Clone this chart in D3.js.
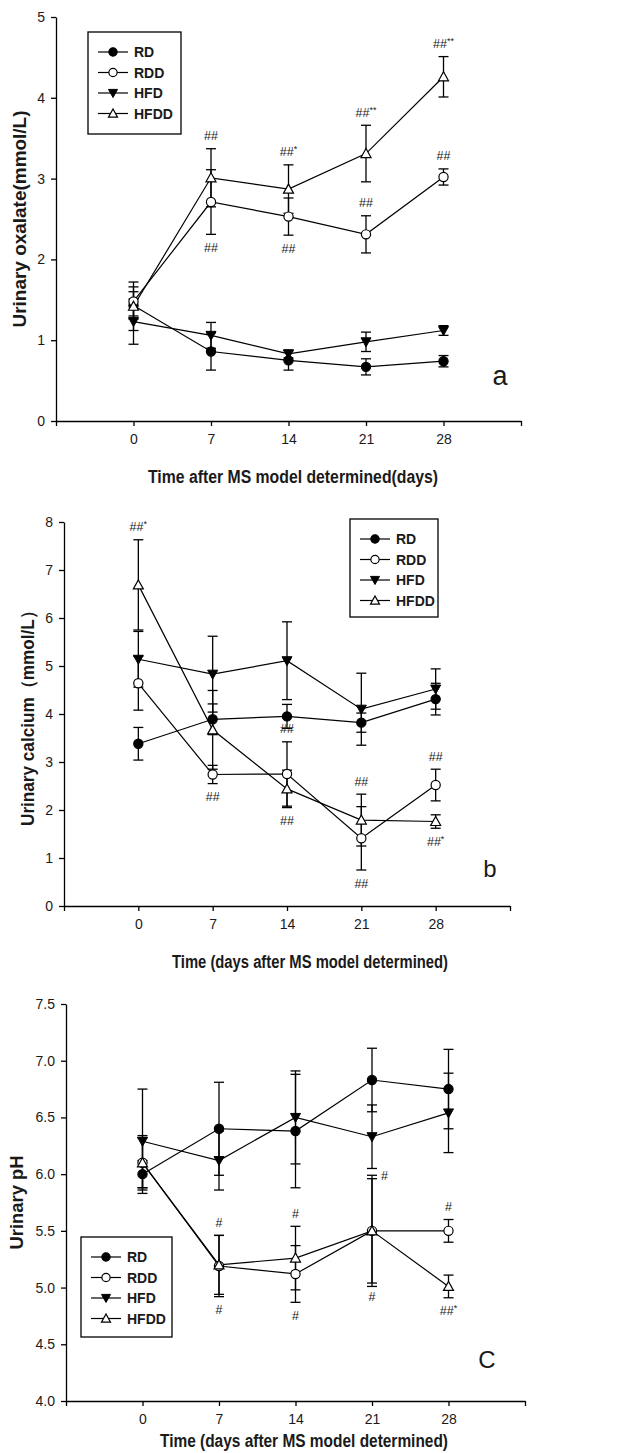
<!DOCTYPE html>
<html>
<head>
<meta charset="utf-8">
<script src="https://cdn.jsdelivr.net/npm/d3@7"></script>
<style>
  body { margin: 0; background: #fff; }
  svg { display: block; }
  text { font-family: 'Liberation Sans', Arial, sans-serif; fill: #1a1a1a; }
</style>
</head>
<body>
<div id="chart"></div>
<script>
const days = [0, 7, 14, 21, 28]
const groups = ['RD', 'RDD', 'HFD', 'HFDD']

// a: urinary oxalate (mmol/L), rows follow groups
const oxalateMean = [
  [1.43, 0.86, 0.75, 0.67, 0.74],
  [1.48, 2.71, 2.53, 2.31, 3.02],
  [1.23, 1.06, 0.83, 0.98, 1.12],
  [1.42, 3.01, 2.87, 3.31, 4.26]
]
const oxalateErr = [
  [0.17, 0.23, 0.12, 0.10, 0.07],
  [0.18, 0.40, 0.23, 0.23, 0.10],
  [0.28, 0.16, 0.05, 0.12, 0.06],
  [0.30, 0.36, 0.30, 0.35, 0.25]
]
const oxalateTicks = [0, 1, 2, 3, 4, 5]
const oxalateMarks = [
  { day: 7, group: 'HFDD', side: 'above', text: '##', star: '' },
  { day: 7, group: 'RDD', side: 'below', text: '##', star: '' },
  { day: 14, group: 'HFDD', side: 'above', text: '##', star: '*' },
  { day: 14, group: 'RDD', side: 'below', text: '##', star: '' },
  { day: 21, group: 'HFDD', side: 'above', text: '##', star: '**' },
  { day: 21, group: 'RDD', side: 'above', text: '##', star: '' },
  { day: 28, group: 'HFDD', side: 'above', text: '##', star: '**' },
  { day: 28, group: 'RDD', side: 'above', text: '##', star: '' }
]

// b: urinary calcium (mmol/L)
const calciumMean = [
  [3.38, 3.89, 3.95, 3.82, 4.31],
  [4.64, 2.74, 2.75, 1.41, 2.52],
  [5.14, 4.83, 5.11, 4.10, 4.52],
  [6.69, 3.67, 2.44, 1.79, 1.76]
]
const calciumErr = [
  [0.34, 0.32, 0.25, 0.20, 0.33],
  [0.56, 0.19, 0.67, 0.66, 0.33],
  [0.58, 0.79, 0.81, 0.75, 0.42],
  [0.94, 0.82, 0.39, 0.54, 0.14]
]
const calciumTicks = [0, 1, 2, 3, 4, 5, 6, 7, 8]
const calciumMarks = [
  { day: 0, group: 'HFDD', side: 'above', text: '##', star: '*' },
  { day: 7, group: 'RDD', side: 'below', text: '##', star: '' },
  { day: 14, group: 'RDD', side: 'above', text: '##', star: '' },
  { day: 14, group: 'HFDD', side: 'below', text: '##', star: '' },
  { day: 21, group: 'HFDD', side: 'above', text: '##', star: '' },
  { day: 21, group: 'RDD', side: 'below', text: '##', star: '' },
  { day: 28, group: 'RDD', side: 'above', text: '##', star: '' },
  { day: 28, group: 'HFDD', side: 'below', text: '##', star: '*' }
]

// c: urinary pH
const phMean = [
  [6.00, 6.40, 6.38, 6.83, 6.75],
  [6.10, 5.19, 5.12, 5.50, 5.50],
  [6.29, 6.12, 6.50, 6.33, 6.54],
  [6.10, 5.20, 5.26, 5.50, 5.01]
]
const phErr = [
  [0.12, 0.41, 0.50, 0.28, 0.35],
  [0.22, 0.27, 0.25, 0.46, 0.10],
  [0.46, 0.26, 0.41, 0.28, 0.35],
  [0.24, 0.26, 0.28, 0.49, 0.10]
]
const phTicks = [4.0, 4.5, 5.0, 5.5, 6.0, 6.5, 7.0, 7.5]
const phMarks = [
  { day: 7, group: 'HFDD', side: 'above', text: '#', star: '' },
  { day: 7, group: 'RDD', side: 'below', text: '#', star: '' },
  { day: 14, group: 'HFDD', side: 'above', text: '#', star: '' },
  { day: 14, group: 'RDD', side: 'below', text: '#', star: '' },
  { day: 21, group: 'HFDD', side: 'right', text: '#', star: '' },
  { day: 21, group: 'RDD', side: 'below', text: '#', star: '' },
  { day: 28, group: 'RDD', side: 'above', text: '#', star: '' },
  { day: 28, group: 'HFDD', side: 'below', text: '##', star: '*' }
]

const xTickValues = [-7, 0, 7, 14, 21, 28, 35]

const panels = [
  {
    mean: oxalateMean, err: oxalateErr, ticks: oxalateTicks, marks: oxalateMarks,
    fmt: d3.format('d'), x0: 56, x1: 521, yTop: 17, yBot: 421,
    yTitle: 'Urinary oxalate(mmol/L)', yTitleX: 20, yTitleLen: 217,
    xTitle: 'Time after MS model determined(days)', xTitleX: 293, xTitleY: 483, xTitleLen: 290,
    legend: { x: 88, y: 32, w: 93, h: 102 },
    letter: 'a', letterX: 500, letterY: 385, letterSize: 27
  },
  {
    mean: calciumMean, err: calciumErr, ticks: calciumTicks, marks: calciumMarks,
    fmt: d3.format('d'), x0: 64, x1: 510, yTop: 522, yBot: 906,
    yTitle: 'Urinary calcium（mmol/L）', yTitleX: 28, yTitleLen: 224,
    xTitle: 'Time (days after MS model determined)', xTitleX: 310, xTitleY: 968, xTitleLen: 276,
    legend: { x: 350, y: 519, w: 88, h: 98 },
    letter: 'b', letterX: 490, letterY: 877, letterSize: 24
  },
  {
    mean: phMean, err: phErr, ticks: phTicks, marks: phMarks,
    fmt: d3.format('.1f'), x0: 66, x1: 525, yTop: 1004, yBot: 1401,
    yTitle: 'Urinary pH', yTitleX: 17, yTitleLen: 94,
    xTitle: 'Time (days after MS model determined)', xTitleX: 304, xTitleY: 1447, xTitleLen: 288,
    legend: { x: 81, y: 1237, w: 91, h: 100 },
    letter: 'C', letterX: 487, letterY: 1368, letterSize: 24
  }
]

const svg = d3
  .select('#chart')
  .append('svg')
  .attr('width', 625)
  .attr('height', 1453)

function marker(sel, group, cx, cy, s = 1) {
  if (group === 'RD' || group === 'RDD') {
    sel.append('circle')
      .attr('cx', cx).attr('cy', cy).attr('r', 4.6 * s)
      .attr('fill', group === 'RD' ? '#000' : '#fff')
      .attr('stroke', '#000').attr('stroke-width', 1.2)
  } else if (group === 'HFD') {
    sel.append('path')
      .attr('d', `M${cx - 5 * s},${cy - 4 * s}L${cx + 5 * s},${cy - 4 * s}L${cx},${cy + 5 * s}Z`)
      .attr('fill', '#000').attr('stroke', '#000').attr('stroke-width', 1)
  } else {
    sel.append('path')
      .attr('d', `M${cx - 5 * s},${cy + 4 * s}L${cx + 5 * s},${cy + 4 * s}L${cx},${cy - 5 * s}Z`)
      .attr('fill', '#fff').attr('stroke', '#000').attr('stroke-width', 1.2)
  }
}

panels.forEach(p => {
  const g = svg.append('g')
  const x = d3.scaleLinear().domain([-7, 35]).range([p.x0, p.x1])
  const y = d3.scaleLinear()
    .domain([p.ticks[0], p.ticks[p.ticks.length - 1]])
    .range([p.yBot, p.yTop])

  // axes
  const xAxis = g.append('g')
    .attr('transform', `translate(0,${p.yBot})`)
    .call(d3.axisBottom(x)
      .tickValues(xTickValues)
      .tickFormat(d => (days.includes(d) ? d : ''))
      .tickSize(5).tickSizeOuter(0).tickPadding(8))
  const yAxis = g.append('g')
    .attr('transform', `translate(${p.x0},0)`)
    .call(d3.axisLeft(y)
      .tickValues(p.ticks)
      .tickFormat(p.fmt)
      .tickSize(5).tickSizeOuter(0).tickPadding(6))
  ;[xAxis, yAxis].forEach(a => {
    a.selectAll('path, line').attr('stroke', '#000').attr('stroke-width', 1.3)
    a.selectAll('text')
      .style('font-family', "'Liberation Sans', Arial, sans-serif")
      .style('font-size', '14px')
      .attr('fill', '#222')
  })

  // titles
  g.append('text')
    .attr('x', p.xTitleX).attr('y', p.xTitleY)
    .attr('text-anchor', 'middle')
    .attr('textLength', p.xTitleLen).attr('lengthAdjust', 'spacingAndGlyphs')
    .style('font-size', '18px').style('font-weight', 'bold')
    .text(p.xTitle)
  g.append('text')
    .attr('transform', `translate(${p.yTitleX},${(p.yTop + p.yBot) / 2}) rotate(-90)`)
    .attr('text-anchor', 'middle').attr('dy', '0.36em')
    .attr('textLength', p.yTitleLen).attr('lengthAdjust', 'spacingAndGlyphs')
    .style('font-size', '18px').style('font-weight', 'bold')
    .text(p.yTitle)
  g.append('text')
    .attr('x', p.letterX).attr('y', p.letterY)
    .attr('text-anchor', 'middle')
    .style('font-size', p.letterSize + 'px')
    .text(p.letter)

  // lines
  const line = d3.line().x((d, i) => x(days[i])).y(d => y(d))
  groups.forEach((grp, gi) => {
    g.append('path')
      .attr('d', line(p.mean[gi]))
      .attr('fill', 'none').attr('stroke', '#000').attr('stroke-width', 1.2)
  })

  // error bars
  groups.forEach((grp, gi) => {
    p.mean[gi].forEach((m, i) => {
      const e = p.err[gi][i]
      const cx = x(days[i])
      const bar = g.append('g').attr('stroke', '#000').attr('stroke-width', 1.3)
      bar.append('line').attr('x1', cx).attr('x2', cx).attr('y1', y(m - e)).attr('y2', y(m + e))
      ;[m - e, m + e].forEach(v => {
        bar.append('line').attr('x1', cx - 5).attr('x2', cx + 5).attr('y1', y(v)).attr('y2', y(v))
      })
    })
  })

  // markers
  groups.forEach((grp, gi) => {
    p.mean[gi].forEach((m, i) => marker(g, grp, x(days[i]), y(m)))
  })

  // significance marks
  p.marks.forEach(mk => {
    const gi = groups.indexOf(mk.group)
    const i = days.indexOf(mk.day)
    const m = p.mean[gi][i]
    const e = p.err[gi][i]
    let tx = x(mk.day)
    let ty
    let anchor = 'middle'
    if (mk.side === 'above') ty = y(m + e) - 13
    else if (mk.side === 'below') ty = y(m - e) + 13
    else { ty = y(m + e); tx += 9; anchor = 'start' }
    const t = g.append('text')
      .attr('x', tx).attr('y', ty + 4.5)
      .attr('text-anchor', anchor)
      .style('font-size', '12.5px')
    t.append('tspan').text(mk.text)
    if (mk.star) {
      t.append('tspan').attr('dy', -4).style('font-size', '9px').text(mk.star)
    }
  })

  // legend
  const lg = g.append('g').attr('transform', `translate(${p.legend.x},${p.legend.y})`)
  lg.append('rect')
    .attr('width', p.legend.w).attr('height', p.legend.h)
    .attr('fill', '#fff').attr('stroke', '#000').attr('stroke-width', 1.3)
  groups.forEach((grp, gi) => {
    const ry = 20 + gi * 20.5
    lg.append('line')
      .attr('x1', 10).attr('x2', 40).attr('y1', ry).attr('y2', ry)
      .attr('stroke', '#000').attr('stroke-width', 1.2)
    marker(lg, grp, 25, ry, 0.9)
    lg.append('text')
      .attr('x', 46).attr('y', ry).attr('dy', '0.36em')
      .style('font-size', '14px').style('font-weight', 'bold')
      .text(grp)
  })
})
</script>
</body>
</html>
